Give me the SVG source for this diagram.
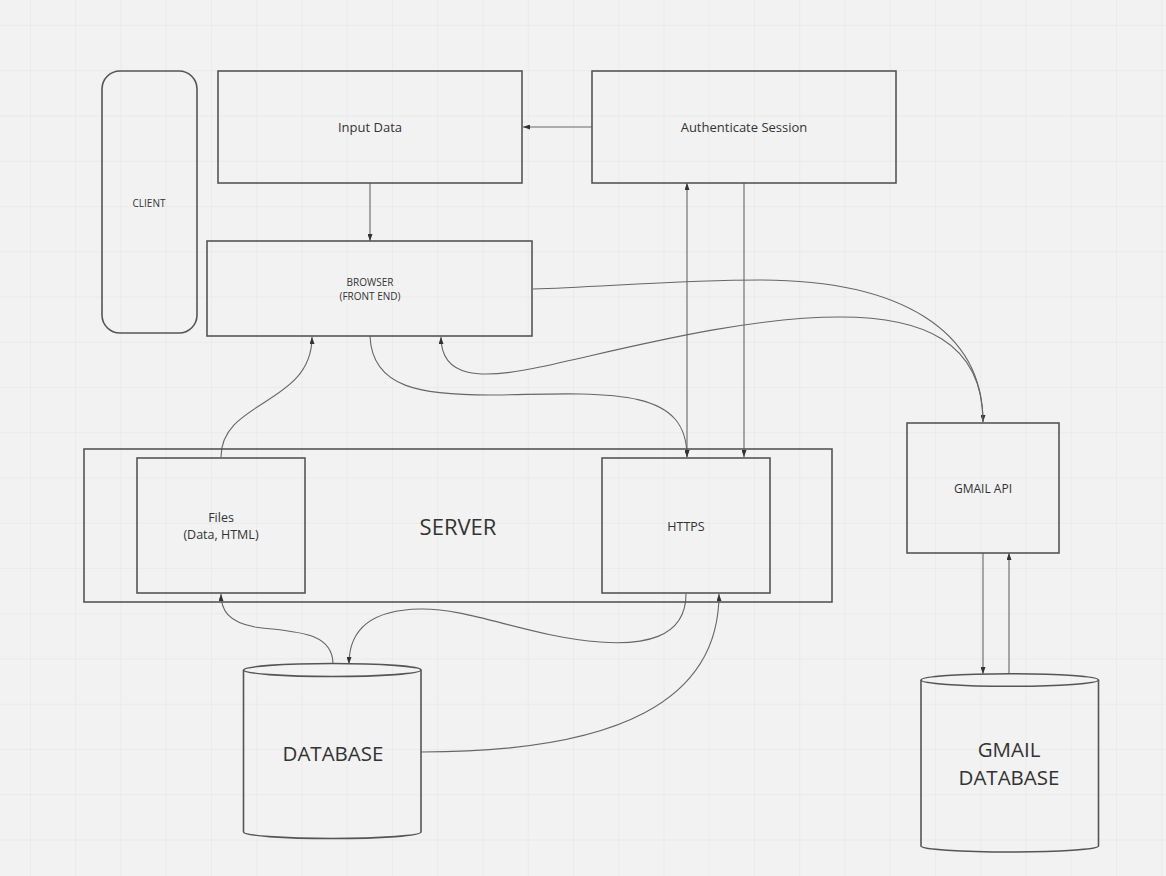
<svg xmlns="http://www.w3.org/2000/svg" width="1166" height="876" viewBox="0 0 1166 876">
  <defs>
    <pattern id="grid" x="30" y="25" width="45.25" height="45.25" patternUnits="userSpaceOnUse">
      <path d="M0,0 L0,45.25 M0,0 L45.25,0" fill="none" stroke="#e3e3e3" stroke-width="1"/>
    </pattern>
    <marker id="arr" viewBox="0 0 7 5" refX="7" refY="2.5" markerWidth="7" markerHeight="5" markerUnits="userSpaceOnUse" orient="auto-start-reverse">
      <path d="M0,0 L7,2.5 L0,5 z" fill="#333"/>
    </marker>
  </defs>
  <style>
    .box { fill: none; stroke: #555; stroke-width: 1.6; }
    .edge { fill: none; stroke: #666; stroke-width: 1.1; marker-end: url(#arr); }
    .t { font-family: "Open Sans", "Noto Sans", sans-serif; fill: #333; text-anchor: middle; }
  </style>
  <rect width="1166" height="876" fill="#f2f2f2"/>
  <rect width="1166" height="876" fill="url(#grid)"/>

  <g id="connectors">
    <path class="edge" d="M592,127 L523,127"/>
    <path class="edge" d="M370,183 L370,241"/>
    <path class="edge" d="M687,183 L687,457" style="marker-start:url(#arr)"/>
    <path class="edge" d="M744,183 L744,457"/>
    <path class="edge" d="M221,457 C221,400 312,405 312,337"/>
    <path class="edge" d="M370,336 C372,388 420,396 500,395 C620,392 687,390 687,457"/>
    <path class="edge" d="M533,289 C600,287 680,280 760,280 C900,280 983,330 983,422"/>
    <path class="edge" d="M983,422 C983,340 920,317 840,317 C740,317 620,350 540,367 C480,380 441,378 441,337"/>
    <path class="edge" d="M983,553 L983,674"/>
    <path class="edge" d="M1009,674 L1009,553"/>
    <path class="edge" d="M333,664 C333,630 290,632 255,627 C228,622 221,610 221,594"/>
    <path class="edge" d="M686,594 C686,640 640,645 600,642 C530,637 470,608 420,609 C365,610 349,635 349,664"/>
    <path class="edge" d="M421,752 C620,752 719,700 719,594"/>
  </g>

  <g id="client">
    <rect class="box" x="102" y="71" width="95" height="262" rx="18" ry="18"/>
    <text class="t" x="149" y="207" font-size="10">CLIENT</text>
  </g>
  <g id="input-data">
    <rect class="box" x="218" y="71" width="304" height="112"/>
    <text class="t" x="370" y="132" font-size="13">Input Data</text>
  </g>
  <g id="authenticate-session">
    <rect class="box" x="592" y="71" width="304" height="112"/>
    <text class="t" x="744" y="132" font-size="13">Authenticate Session</text>
  </g>
  <g id="browser">
    <rect class="box" x="207" y="241" width="325" height="95"/>
    <text class="t" x="370" y="286" font-size="10">BROWSER</text>
    <text class="t" x="370" y="300" font-size="10">(FRONT END)</text>
  </g>
  <g id="server">
    <rect class="box" x="84" y="449" width="748" height="153"/>
    <text class="t" x="458" y="535" font-size="22">SERVER</text>
  </g>
  <g id="files">
    <rect class="box" x="137" y="458" width="168" height="135"/>
    <text class="t" x="221" y="522" font-size="12.5">Files</text>
    <text class="t" x="221" y="539" font-size="12.5">(Data, HTML)</text>
  </g>
  <g id="https">
    <rect class="box" x="602" y="458" width="168" height="135"/>
    <text class="t" x="686" y="531" font-size="12.5">HTTPS</text>
  </g>
  <g id="gmail-api">
    <rect class="box" x="907" y="423" width="152" height="130"/>
    <text class="t" x="983" y="493" font-size="12">GMAIL API</text>
  </g>
  <g id="database">
    <path class="box" d="M243.5,670 L243.5,832 A88.75,6.5 0 0 0 421,832 L421,670"/>
    <ellipse class="box" cx="332.25" cy="670" rx="88.75" ry="6.5"/>
    <text class="t" x="333" y="761" font-size="20.5">DATABASE</text>
  </g>
  <g id="gmail-database">
    <path class="box" d="M921,680 L921,846 A88.75,6 0 0 0 1098.5,846 L1098.5,680"/>
    <ellipse class="box" cx="1009.75" cy="680" rx="88.75" ry="6.3"/>
    <text class="t" x="1009" y="757" font-size="20.5">GMAIL</text>
    <text class="t" x="1009" y="785" font-size="20.5">DATABASE</text>
  </g>
</svg>
